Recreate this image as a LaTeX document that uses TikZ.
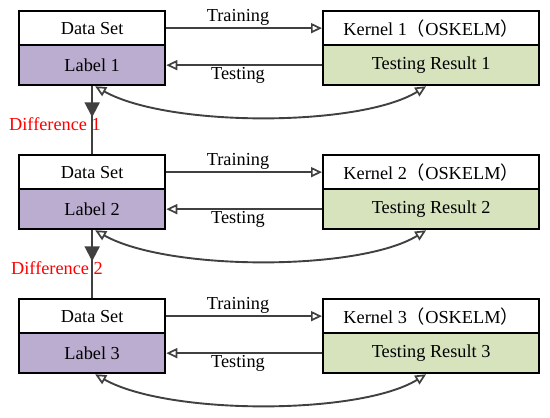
\documentclass[tikz,border=0pt]{standalone}
\usepackage{fontspec}
\setmainfont{Liberation Serif}
\newfontfamily\cjk{Noto Sans CJK SC}
\usetikzlibrary{arrows.meta}
\definecolor{lblfill}{HTML}{BBADD0}
\definecolor{resfill}{HTML}{D6E3BC}
\definecolor{arrgray}{HTML}{404040}
\definecolor{diffred}{HTML}{FF0000}
\begin{document}
\begin{tikzpicture}[x=1pt,y=-1pt,
  font=\fontsize{18.3}{21}\selectfont,
  boxbase/.style={draw=black,line width=2.3pt,rectangle,anchor=north west,inner sep=0pt},
  topbox/.style={boxbase,fill=white,minimum height=34pt},
  lowbox/.style={boxbase,minimum height=40pt},
  leftw/.style={minimum width=146pt},
  rightw/.style={minimum width=216pt},
  flow/.style={draw=arrgray,line width=1.9pt,-{Triangle[open,length=11pt,width=10pt,line width=1.7pt]}},
  bi/.style={draw=arrgray,line width=1.9pt,{Triangle[open,length=11pt,width=10pt,line width=1.7pt]}-{Triangle[open,length=11pt,width=10pt,line width=1.7pt]}},
  down/.style={draw=arrgray,line width=2pt},
  downhead/.style={draw=arrgray,line width=2pt,-{Triangle[length=15pt,width=15pt]}},
  flowlbl/.style={inner sep=0pt},
  difflbl/.style={text=diffred,inner sep=0pt}
]
\useasboundingbox (0,0) rectangle (550,418);

\foreach \k/\o in {1/0,2/144,3/288}{
  \node[topbox,leftw] (ds\k) at (18,10+\o) {Data Set};
  \node[lowbox,leftw,fill=lblfill] (lb\k) at (18,44+\o) {Label \k};
  \node[topbox,rightw] (kn\k) at (322,10+\o) {Kernel \k{\cjk （}OSKELM{\cjk ）}};
  \node[lowbox,rightw,fill=resfill] (tr\k) at (322,44+\o) {Testing Result \k};
  \draw[flow] (ds\k.east) -- (kn\k.west);
  \draw[flow] (tr\k.west) -- (lb\k.east);
  \node[flowlbl] (trn\k) at (238,17+\o) {Training};
  \node[flowlbl] (tst\k) at (238,75+\o) {Testing};
  \draw[bi] ([xshift=3pt]lb\k.south) .. controls ([xshift=76pt,yshift=-41pt]lb\k.south) and ([xshift=-72pt,yshift=-41pt]tr\k.south) .. ([xshift=-5pt]tr\k.south);
}

\foreach \k/\n in {1/2,2/3}{
  \draw[down] (lb\k.south) -- (ds\n.north);
  \coordinate (hd\k) at ([yshift=-31pt]lb\k.south);
  \draw[downhead] (lb\k.south) -- (hd\k);
}
\node[difflbl] (d1) at (55,124) {Difference 1};
\node[difflbl] (d2) at (57,268) {Difference 2};
\end{tikzpicture}
\end{document}
